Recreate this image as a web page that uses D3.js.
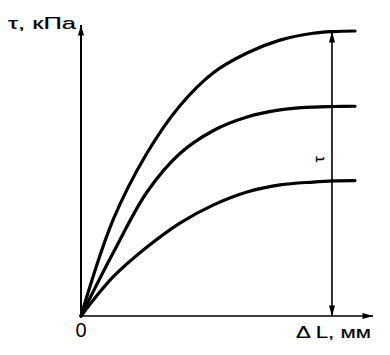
<!DOCTYPE html>
<html><head><meta charset="utf-8">
<script src="https://cdn.jsdelivr.net/npm/d3@7"></script>
<style>body{margin:0;background:#fff}svg{display:block}</style>
</head><body>
<svg id="c" width="390" height="355"></svg>
<script>
const xVals = [0, 11.7, 24.1, 36.1, 48.2, 60.6, 72.6, 84.7, 92, 100];
const topVals = [0, 33.7, 57.2, 73.8, 85.3, 92.3, 96.8, 99.2, 99.8, 100];
const midVals = [0, 22.1, 43.5, 57.0, 65.0, 69.8, 72.3, 73.3, 73.5, 73.6];
const lowVals = [0, 13.7, 24.2, 32.6, 38.9, 43.5, 46.0, 47.0, 47.4, 47.5];
const seriesList = [topVals, midVals, lowVals];
const yLabel = "τ, кПа";
const xLabel = "Δ L, мм";
const originLabel = "0";
const arrowLabel = "τ";
const arrowX = 91.6;

const svg = d3.select("#c");
const x = d3.scaleLinear().domain([0, 100]).range([81, 355]);
const y = d3.scaleLinear().domain([0, 100]).range([316, 31]);
const font = "Liberation Sans, Arial, sans-serif";

const defs = svg.append("defs");
defs.append("marker").attr("id","ah").attr("viewBox","0 0 12 8").attr("refX",12).attr("refY",4)
  .attr("markerWidth",13).attr("markerHeight",7).attr("markerUnits","userSpaceOnUse").attr("orient","auto-start-reverse")
  .append("path").attr("d","M0,0.5 L12,4 L0,7.5 Z").attr("fill","#000");

// axes
svg.append("line").attr("x1", x(0)).attr("y1", y(0)).attr("x2", x(0)).attr("y2", 25)
  .attr("stroke","#000").attr("stroke-width",2).attr("marker-end","url(#ah)");
svg.append("line").attr("x1", x(0)).attr("y1", y(0)).attr("x2", 373).attr("y2", y(0))
  .attr("stroke","#000").attr("stroke-width",1.5).attr("marker-end","url(#ah)");

// curves
const line = d3.line().x((d,i)=>x(xVals[i])).y(d=>y(d)).curve(d3.curveCatmullRom.alpha(0.5));
seriesList.forEach(s=>{
  svg.append("path").attr("d", line(s)).attr("fill","none").attr("stroke","#000").attr("stroke-width",3.2)
    .attr("stroke-linecap","round");
});

// double arrow
svg.append("line").attr("x1", x(arrowX)).attr("x2", x(arrowX)).attr("y1", y(0)).attr("y2", y(100)+1)
  .attr("stroke","#000").attr("stroke-width",1.6)
  .attr("marker-start","url(#ah)").attr("marker-end","url(#ah)");

svg.append("text").attr("transform", `translate(${x(arrowX)-8},${y(55)}) rotate(-90)`)
  .attr("text-anchor","middle").attr("font-family",font).attr("font-size",15)
  .attr("stroke","#000").attr("stroke-width",0.3)
  .text(arrowLabel);

// labels
svg.append("text").attr("x", 8).attr("y", 29).attr("font-family",font)
  .attr("font-size",17).attr("textLength",68).attr("lengthAdjust","spacingAndGlyphs")
  .attr("stroke","#000").attr("stroke-width",0.2).text(yLabel);
svg.append("text").attr("x", 296).attr("y", 338).attr("font-family",font)
  .attr("font-size",17).attr("textLength",75).attr("lengthAdjust","spacingAndGlyphs")
  .attr("stroke","#000").attr("stroke-width",0.2).text(xLabel);
svg.append("text").attr("x", x(0)).attr("y", 337).attr("text-anchor","middle").attr("font-family",font)
  .attr("font-size",20).text(originLabel);
</script>
</body></html>
